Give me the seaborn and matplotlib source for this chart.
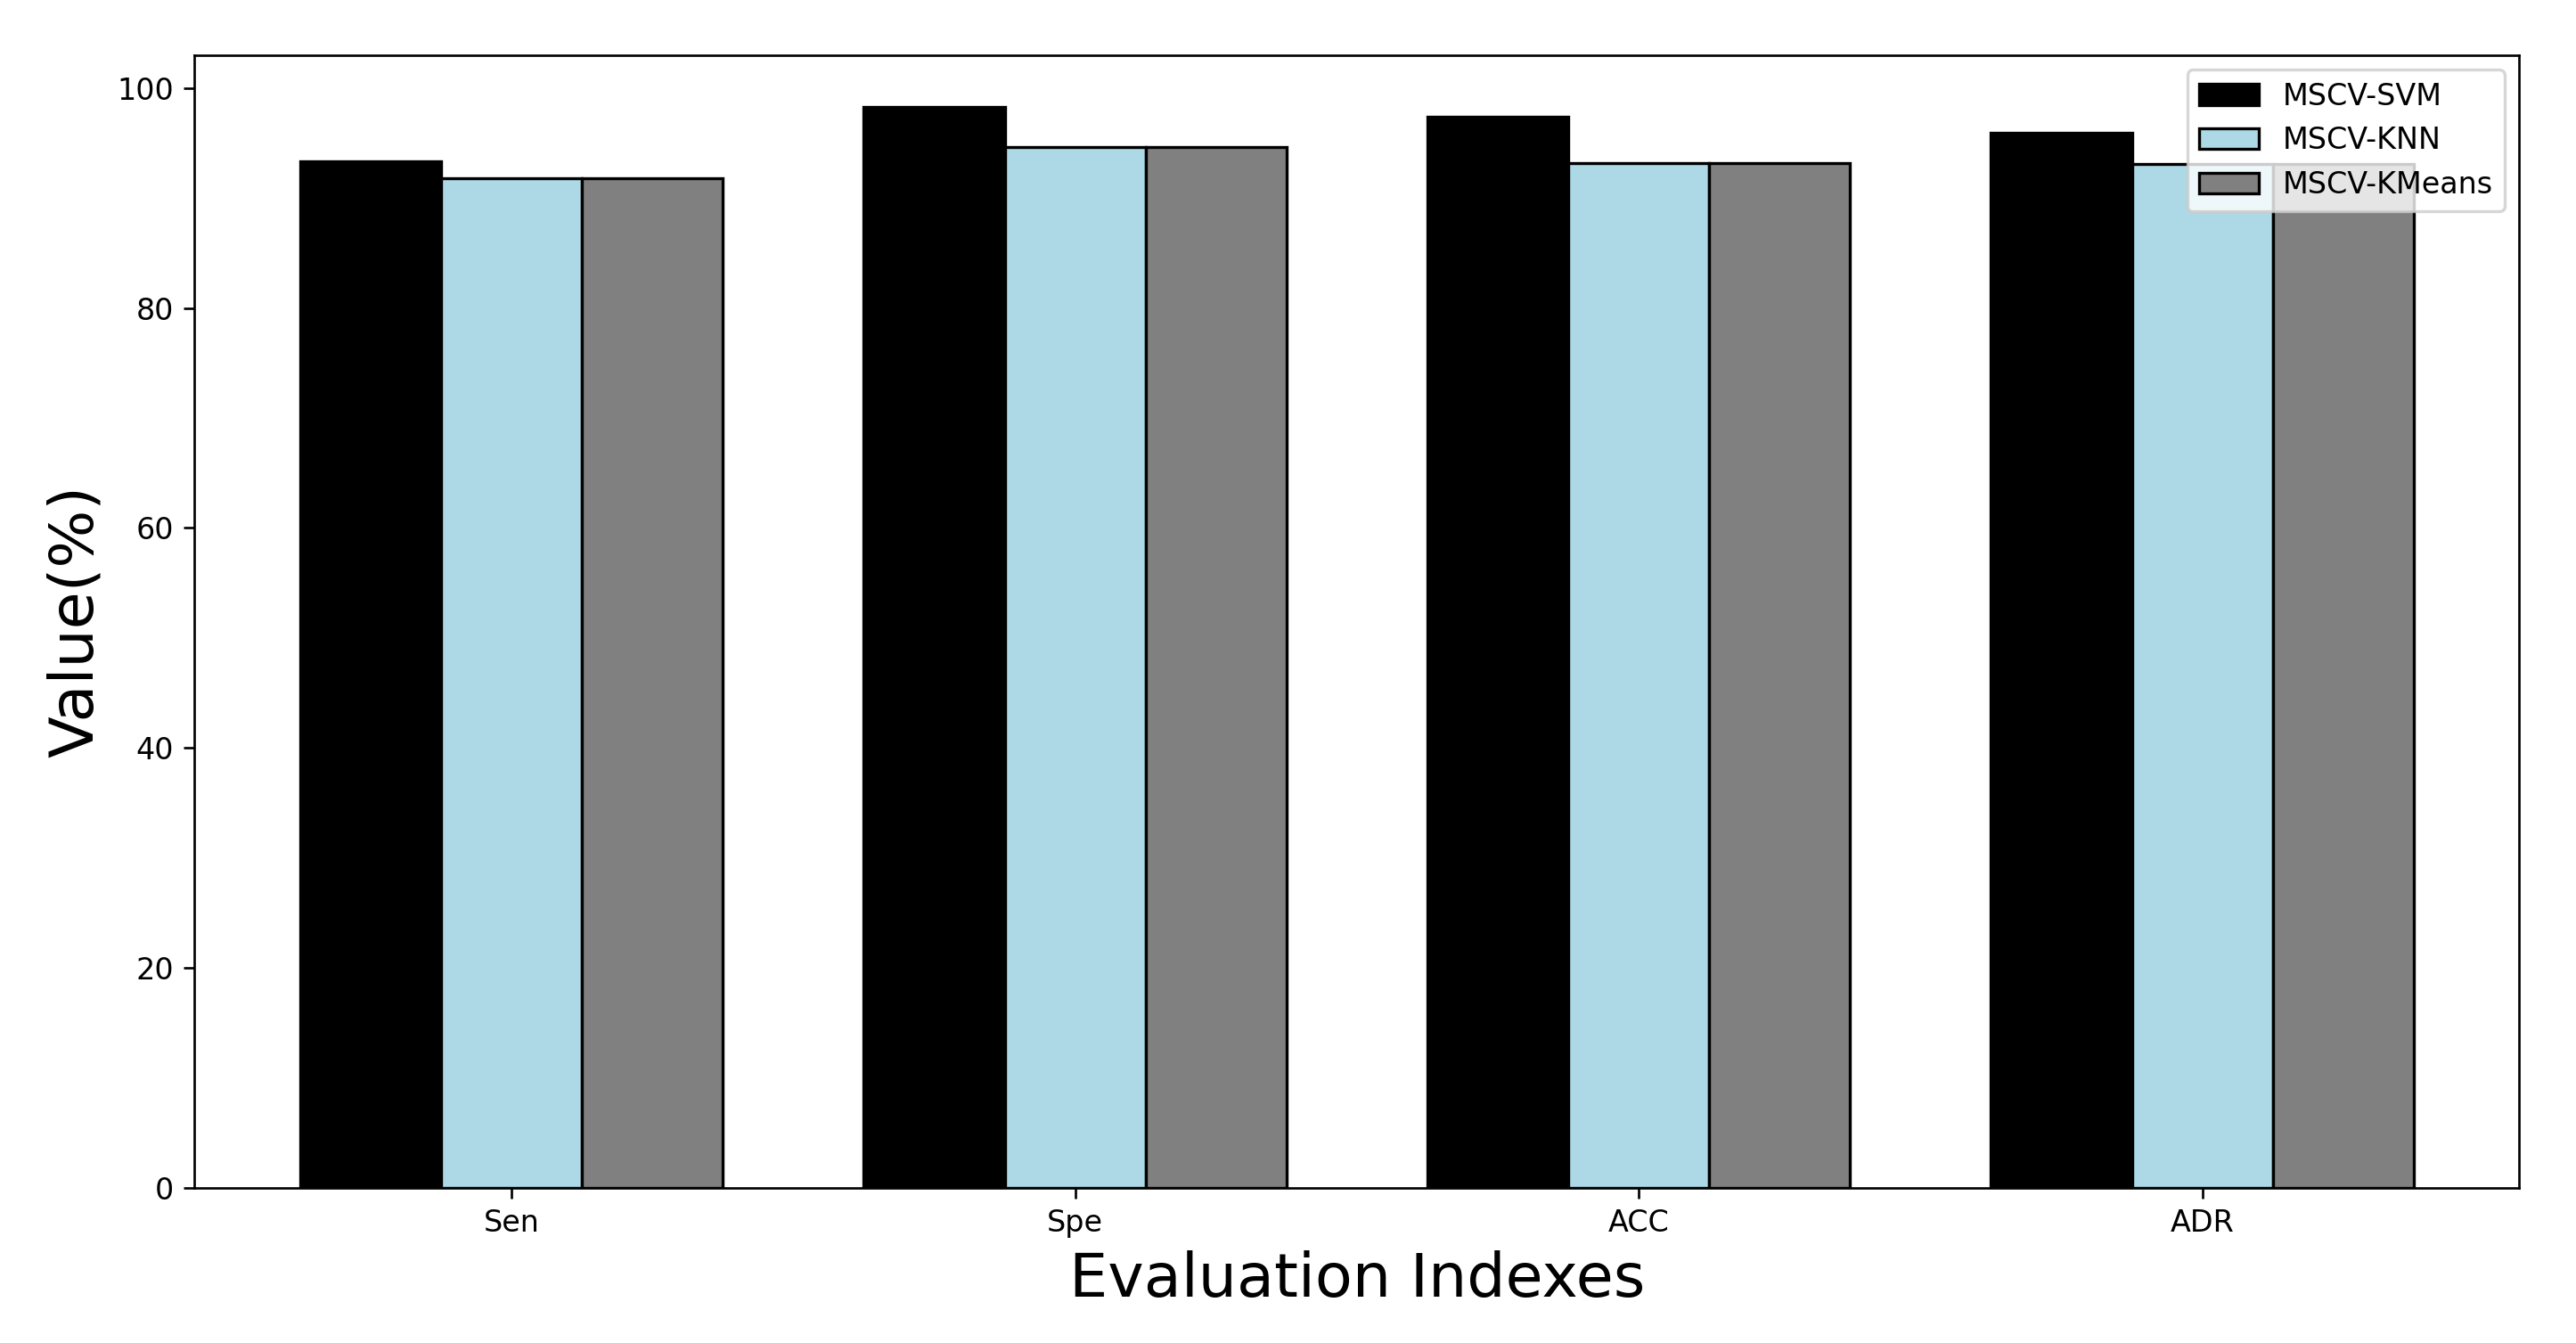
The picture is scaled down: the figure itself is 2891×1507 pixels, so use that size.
import pandas as pd
import matplotlib
matplotlib.use("Agg")
import matplotlib.pyplot as plt
import seaborn as sns

# values
indexes = ["Sen", "Spe", "ACC", "ADR"]
models = ["MSCV-SVM", "MSCV-KNN", "MSCV-KMeans"]
svm_vals = [93.3, 98.3, 97.4, 95.9]
knn_vals = [91.8, 94.6, 93.2, 93.1]
kmeans_vals = [91.8, 94.6, 93.2, 93.1]
colors = ["black", "lightblue", "gray"]

rows = []
for model, vals in zip(models, [svm_vals, knn_vals, kmeans_vals]):
    for idx, v in zip(indexes, vals):
        rows.append({"index": idx, "model": model, "value": v})
df = pd.DataFrame(rows)

dpi = 240
fig, ax = plt.subplots(figsize=(2891 / dpi, 1507 / dpi), dpi=dpi)
fig.subplots_adjust(left=0.0755, right=0.978, top=0.959, bottom=0.1155)

sns.barplot(data=df, x="index", y="value", hue="model", order=indexes,
            hue_order=models, palette=colors, saturation=1, width=0.75,
            edgecolor="black", linewidth=1, ax=ax)

ax.set_xlim(-0.5625, 3.5625)
ax.set_ylim(0, 103.0)
ax.set_yticks([0, 20, 40, 60, 80, 100])
ax.set_xlabel("Evaluation Indexes", fontsize=20.5)
ax.set_ylabel("Value(%)", fontsize=20.5)
ax.legend(loc="upper right")

fig.savefig("out.png", dpi=dpi)
